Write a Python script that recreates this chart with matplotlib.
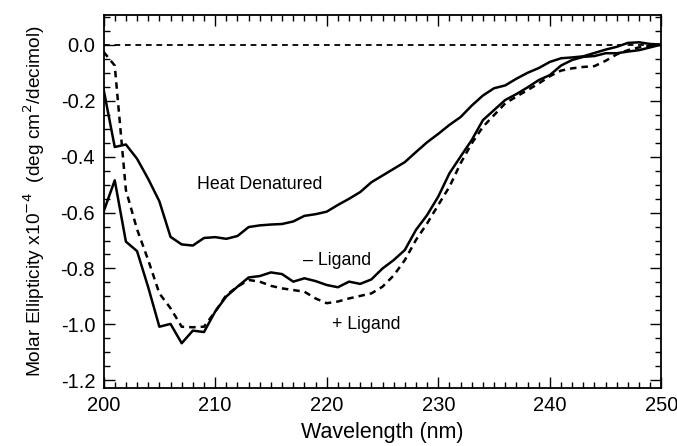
import matplotlib
matplotlib.use("Agg")
import matplotlib.pyplot as plt
from matplotlib.ticker import MultipleLocator, FormatStrFormatter

plt.rcParams['font.family'] = ['Liberation Sans', 'DejaVu Sans']

wl = list(range(200, 251))

heat_denatured = [-0.16, -0.366, -0.357, -0.408, -0.48, -0.56, -0.687, -0.714, -0.718, -0.691,
                  -0.688, -0.694, -0.684, -0.652, -0.646, -0.643, -0.641, -0.632, -0.612, -0.606,
                  -0.597, -0.573, -0.551, -0.527, -0.492, -0.468, -0.444, -0.42, -0.384, -0.349,
                  -0.319, -0.287, -0.259, -0.218, -0.182, -0.156, -0.146, -0.122, -0.101, -0.084,
                  -0.062, -0.049, -0.046, -0.042, -0.03, -0.018, -0.008, 0.006, 0.008, 0.002, 0.0]

minus_ligand = [-0.597, -0.485, -0.704, -0.738, -0.867, -1.008, -0.998, -1.067, -1.022, -1.027,
                -0.954, -0.90, -0.865, -0.832, -0.827, -0.814, -0.82, -0.847, -0.835, -0.845,
                -0.859, -0.867, -0.847, -0.855, -0.839, -0.80, -0.77, -0.734, -0.662, -0.609,
                -0.543, -0.46, -0.40, -0.341, -0.27, -0.234, -0.198, -0.177, -0.153, -0.127,
                -0.109, -0.075, -0.055, -0.044, -0.041, -0.031, -0.031, -0.025, -0.02, -0.01, 0.0]

plus_ligand = [-0.026, -0.075, -0.52, -0.66, -0.77, -0.889, -0.942, -1.008, -1.01, -1.008,
               -0.954, -0.895, -0.865, -0.841, -0.847, -0.862, -0.871, -0.877, -0.883, -0.907,
               -0.924, -0.918, -0.907, -0.898, -0.889, -0.865, -0.825, -0.77, -0.698, -0.639,
               -0.573, -0.508, -0.424, -0.353, -0.294, -0.252, -0.21, -0.186, -0.163, -0.139,
               -0.113, -0.093, -0.085, -0.08, -0.077, -0.058, -0.035, -0.02, -0.01, -0.004, 0.0]

baseline_x = [200, 250]
baseline_y = [0.0, 0.0]

fig = plt.figure(figsize=(6.77, 4.46), dpi=100)
ax = fig.add_axes([0.153, 0.13, 0.824, 0.836])

ax.plot(baseline_x, baseline_y, color='black', lw=1.3, ls=(0, (3.2, 2.6)))
ax.plot(wl, heat_denatured, color='black', lw=1.8)
ax.plot(wl, minus_ligand, color='black', lw=1.8)
ax.plot(wl, plus_ligand, color='black', lw=1.8, ls=(0, (2.6, 2.0)))

ax.text(214.0, -0.5, 'Heat Denatured', fontsize=12.8, ha='center', va='center')
ax.text(220.9, -0.77, '\u2013 Ligand', fontsize=12.8, ha='center', va='center')
ax.text(223.5, -1.0, '+ Ligand', fontsize=12.8, ha='center', va='center')

ax.set_xlim(200, 250)
ax.set_ylim(-1.227, 0.105)
ax.xaxis.set_major_locator(MultipleLocator(10))
ax.xaxis.set_minor_locator(MultipleLocator(1))
ax.yaxis.set_major_locator(MultipleLocator(0.2))
ax.yaxis.set_minor_locator(MultipleLocator(0.05))
ax.yaxis.set_major_formatter(FormatStrFormatter('%.1f'))

ax.tick_params(which='both', direction='in', top=True, right=True, labelsize=14.5, width=1.0)
ax.tick_params(which='major', length=8, pad=6)
ax.tick_params(which='minor', length=4)
for s in ax.spines.values():
    s.set_linewidth(1.3)

ax.set_xlabel('Wavelength (nm)', fontsize=15.5, labelpad=5)
ax.set_ylabel('Molar Ellipticity x10$^{-4}$  (deg cm$^{2}$/decimol)', fontsize=13.8, labelpad=10)

fig.savefig('out.png', dpi=100)
